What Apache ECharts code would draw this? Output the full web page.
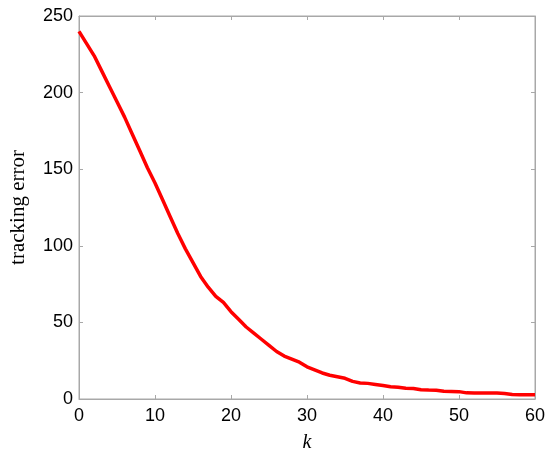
<!DOCTYPE html>
<html>
<head>
<meta charset="utf-8">
<script src="https://cdn.jsdelivr.net/npm/echarts@6/dist/echarts.min.js"></script>
<style>
  html, body { margin: 0; padding: 0; background: #fff; }
  #chart { width: 550px; height: 458px; }
</style>
</head>
<body>
<div id="chart"></div>
<script>
// iteration index k
let kValues = [];
for (let i = 0; i <= 60; i++) kValues.push(i);

// tracking error
let errValues = [
    240, 232, 224, 214, 204, 194, 184, 173, 162, 151,
    141, 130, 119, 108, 98, 89, 80, 73, 67, 63,
    57, 52, 47, 43, 39, 35, 31, 28, 26, 24,
    21, 19, 17, 15.5, 14.5, 13.5, 11.5, 10.5, 10.2, 9.5,
    8.8, 8, 7.6, 7, 6.8, 6, 5.8, 5.7, 5, 4.9,
    4.8, 4, 3.9, 3.9, 3.9, 3.9, 3.6, 2.9, 2.8, 2.8,
    2.8
];

let xTicks = [0, 60, 10];
let yTicks = [0, 250, 50];

function pairs(xs, ys) {
    let data = new Array();
    let i = 0;
    while (i < xs.length) {
        data.push([xs[i], ys[i]]);
        ++i;
    }
    return data;
}

let axisGray = '#a8a8a8';
let labelFont = {color: '#000', fontSize: 18, fontFamily: 'Liberation Sans, Arial, sans-serif'};

// mirrored axes only carry the inward ticks on top / right
function mirrorAxis(pos, t) {
    return {
        type: 'value',
        position: pos,
        min: t[0], max: t[1], interval: t[2],
        axisLine: {show: true, onZero: false, lineStyle: {color: axisGray, width: 1}},
        axisTick: {show: true, inside: true, length: 4, lineStyle: {color: axisGray}},
        axisLabel: {show: false},
        splitLine: {show: false}
    };
}

echarts.init(document.getElementById('chart'), null, {renderer: 'canvas'}).setOption({
    animation: false,
    backgroundColor: '#fff',
    grid: {left: 76, right: 15, top: 16, bottom: 57, show: true, borderColor: axisGray, borderWidth: 1, backgroundColor: 'transparent'},
    xAxis: [{
        type: 'value',
        min: xTicks[0], max: xTicks[1], interval: xTicks[2],
        name: 'k',
        nameLocation: 'middle',
        nameGap: 34,
        nameTextStyle: {fontFamily: 'Liberation Serif, Times New Roman, serif', fontStyle: 'italic', fontSize: 20, color: '#000'},
        axisLine: {lineStyle: {color: axisGray, width: 1}},
        axisTick: {inside: true, length: 4, lineStyle: {color: axisGray}},
        axisLabel: Object.assign({margin: 8}, labelFont),
        splitLine: {show: false}
    }, mirrorAxis('top', xTicks)],
    yAxis: [{
        type: 'value',
        min: yTicks[0], max: yTicks[1], interval: yTicks[2],
        name: 'tracking error',
        nameLocation: 'middle',
        nameGap: 50,
        nameTextStyle: {fontFamily: 'Liberation Serif, Times New Roman, serif', fontSize: 21, color: '#000'},
        axisLine: {show: true, lineStyle: {color: axisGray, width: 1}},
        axisTick: {show: true, inside: true, length: 4, lineStyle: {color: axisGray}},
        axisLabel: Object.assign({margin: 6}, labelFont),
        splitLine: {show: false}
    }, mirrorAxis('right', yTicks)],
    series: [{
        type: 'line',
        xAxisIndex: 0,
        yAxisIndex: 0,
        data: pairs(kValues, errValues),
        showSymbol: false,
        smooth: false,
        lineStyle: {color: '#ff0000', width: 3.5},
        z: 3
    }, {
        // empty series so the mirrored axes get drawn
        type: 'line',
        xAxisIndex: 1,
        yAxisIndex: 1,
        data: [],
        showSymbol: false
    }]
});
</script>
</body>
</html>
